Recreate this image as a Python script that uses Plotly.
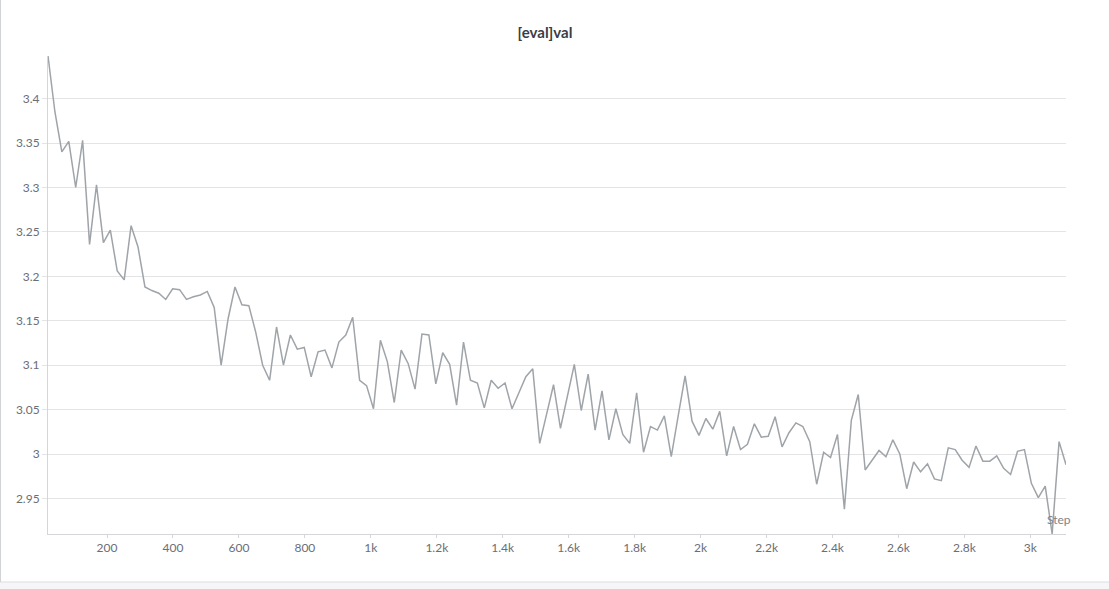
import plotly.graph_objects as go

# eval logged every 21 steps
steps = list(range(21, 3109, 21))

val = [
    3.448, 3.385, 3.340, 3.352, 3.300, 3.353, 3.236, 3.303, 3.238, 3.252,
    3.206, 3.196, 3.257, 3.233, 3.188, 3.184, 3.181, 3.174, 3.186, 3.185,
    3.174, 3.177, 3.179, 3.183, 3.165, 3.100, 3.152, 3.188, 3.168, 3.167,
    3.137, 3.100, 3.083, 3.143, 3.100, 3.134, 3.118, 3.120, 3.087, 3.115,
    3.117, 3.097, 3.126, 3.134, 3.154, 3.083, 3.077, 3.051, 3.128, 3.104,
    3.058, 3.117, 3.102, 3.073, 3.135, 3.134, 3.079, 3.114, 3.101, 3.055,
    3.126, 3.083, 3.080, 3.052, 3.083, 3.074, 3.080, 3.051, 3.069, 3.087,
    3.096, 3.012, 3.045, 3.078, 3.029, 3.065, 3.101, 3.049, 3.090, 3.027,
    3.071, 3.016, 3.051, 3.022, 3.012, 3.069, 3.002, 3.031, 3.027, 3.043,
    2.997, 3.043, 3.088, 3.037, 3.021, 3.040, 3.028, 3.048, 2.998, 3.031,
    3.005, 3.011, 3.034, 3.019, 3.020, 3.042, 3.008, 3.024, 3.035, 3.031,
    3.014, 2.966, 3.002, 2.996, 3.022, 2.938, 3.038, 3.067, 2.982, 2.993,
    3.004, 2.997, 3.016, 3.000, 2.961, 2.991, 2.980, 2.989, 2.972, 2.970,
    3.007, 3.005, 2.993, 2.985, 3.009, 2.992, 2.992, 2.998, 2.984, 2.977,
    3.003, 3.005, 2.967, 2.951, 2.964, 2.910, 3.014, 2.988,
]

x_tickvals = [200, 400, 600, 800, 1000, 1200, 1400, 1600, 1800, 2000,
              2200, 2400, 2600, 2800, 3000]
x_ticktext = ["200", "400", "600", "800", "1k", "1.2k", "1.4k", "1.6k", "1.8k",
              "2k", "2.2k", "2.4k", "2.6k", "2.8k", "3k"]
y_tickvals = [2.95, 3.0, 3.05, 3.1, 3.15, 3.2, 3.25, 3.3, 3.35, 3.4]
y_ticktext = ["2.95", "3", "3.05", "3.1", "3.15", "3.2", "3.25", "3.3", "3.35", "3.4"]

line_color = "#9fa4a9"
grid_color = "#e4e4e6"
tick_font_color = "#6b6e76"

fig = go.Figure()

fig.add_trace(
    go.Scatter(
        x=steps,
        y=val,
        mode="lines",
        line=dict(color=line_color, width=1.5),
        name="val",
        showlegend=False,
    )
)

fig.update_layout(
    width=1109,
    height=589,
    margin=dict(l=48, r=43, t=56, b=55),
    paper_bgcolor="white",
    plot_bgcolor="white",
    font=dict(family="Lato, Noto Sans, sans-serif", color=tick_font_color, size=12),
    title=dict(
        text="<b>[eval]val</b>",
        x=0.4914,
        xanchor="center",
        y=0.944,
        yanchor="middle",
        font=dict(size=15, color="#3b3d45"),
    ),
    showlegend=False,
)

fig.update_xaxes(
    range=[min(steps), max(steps)],
    tickvals=x_tickvals,
    ticktext=x_ticktext,
    showgrid=False,
    zeroline=False,
    showline=True,
    linecolor="#d6d6da",
    linewidth=1,
    ticks="outside",
    ticklen=3,
    tickcolor="#d6d6da",
    tickfont=dict(size=12, color=tick_font_color),
)

fig.update_yaxes(
    range=[min(val), max(val)],
    tickvals=y_tickvals,
    ticktext=y_ticktext,
    showgrid=True,
    gridcolor=grid_color,
    gridwidth=1,
    zeroline=False,
    showline=True,
    linecolor="#d6d6da",
    linewidth=1,
    ticks="outside",
    ticklen=5,
    tickcolor=grid_color,
    tickfont=dict(size=12, color=tick_font_color),
)

# "Step" axis label sitting inside the bottom-right corner
fig.add_annotation(
    text="Step",
    xref="paper",
    yref="paper",
    x=1.007,
    y=0.03,
    xanchor="right",
    yanchor="middle",
    showarrow=False,
    font=dict(size=12, color="#808389"),
)

# panel border at the bottom and left edge
fig.add_shape(
    type="rect", xref="paper", yref="paper",
    x0=-0.05, x1=1.05, y0=-0.13, y1=-0.1004,
    line=dict(width=0), fillcolor="#f6f6f9", layer="below",
)
fig.add_shape(
    type="line", xref="paper", yref="paper",
    x0=-0.05, x1=1.05, y0=-0.1004, y1=-0.1004,
    line=dict(color="#dcdce2", width=1),
)
fig.add_shape(
    type="line", xref="paper", yref="paper",
    x0=-0.0467, x1=-0.0467, y0=-0.1004, y1=1.12,
    line=dict(color="#cfd2d5", width=1),
)

# drop the default body margin so the figure sits at the page corner
fig.write_html(
    "out.html",
    config={"displayModeBar": False},
    post_script="document.body.style.margin='0px';",
)
